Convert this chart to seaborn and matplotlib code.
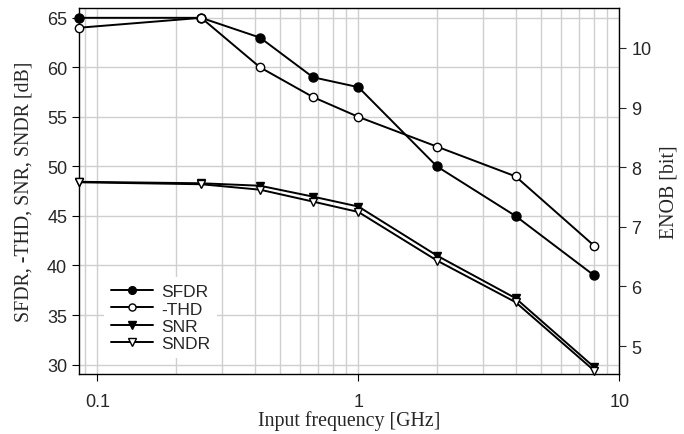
import numpy as np
import pandas as pd
import matplotlib
matplotlib.use("Agg")
import matplotlib.pyplot as plt
import matplotlib.ticker as mticker
import seaborn as sns

# data
freq_ghz = [0.085, 0.25, 0.42, 0.67, 1.0, 2.0, 4.0, 8.0]
sfdr = [65, 65, 63, 59, 58, 50, 45, 39]
thd = [64, 65, 60, 57, 55, 52, 49, 42]
snr = [48.45, 48.3, 48.05, 46.95, 45.95, 41.0, 36.7, 29.75]
sndr = [48.4, 48.2, 47.65, 46.45, 45.4, 40.5, 36.3, 29.4]

y_lim = (29.05, 66.0)
enob_ticks = [5, 6, 7, 8, 9, 10]

sns.set_style("ticks")
plt.rcParams["font.family"] = ["Liberation Sans", "DejaVu Sans"]

fig = plt.figure(figsize=(6.84, 4.35), dpi=100)
ax = fig.add_axes([0.1155, 0.138, 0.79, 0.8415])

series = [
    ("SFDR", sfdr, "o", "black", 6.5),
    ("-THD", thd, "o", "white", 6.0),
    ("SNR", snr, "v", "black", 6.0),
    ("SNDR", sndr, "v", "white", 6.0),
]
for name, vals, mk, fc, ms in series:
    sns.lineplot(x=freq_ghz, y=vals, ax=ax, label=name, color="black",
                 linewidth=1.4, marker=mk, markersize=ms,
                 markerfacecolor=fc, markeredgecolor="black",
                 markeredgewidth=1.0, clip_on=False, zorder=3)

ax.set_xscale("log")
ax.set_xlim(freq_ghz[0], 10)
ax.set_ylim(*y_lim)
ax.set_yticks([30, 35, 40, 45, 50, 55, 60, 65])
ax.xaxis.set_major_locator(mticker.LogLocator(base=10))
ax.xaxis.set_minor_locator(mticker.LogLocator(base=10, subs=np.arange(2, 10)))
ax.xaxis.set_major_formatter(mticker.FuncFormatter(lambda v, p: f"{v:g}"))
ax.xaxis.set_minor_formatter(mticker.NullFormatter())

ax.grid(True, which="major", color="#cfcfcf", linewidth=1.0)
ax.grid(True, which="minor", axis="x", color="#cfcfcf", linewidth=1.0)
ax.set_axisbelow(True)
ax.tick_params(axis="both", which="major", direction="out", length=5,
               labelsize=13, color="black")
ax.tick_params(axis="x", which="minor", length=0)
ax.tick_params(axis="x", pad=9)
for sp in ax.spines.values():
    sp.set_color("black")
    sp.set_linewidth(1.0)
    sp.set_visible(True)

ax.set_xlabel("Input frequency [GHz]", family="Liberation Serif", fontsize=14.3,
              labelpad=0)
ax.set_ylabel("SFDR, -THD, SNR, SNDR [dB]", family="Liberation Serif",
              fontsize=14.3, labelpad=10)

# ENOB axis: same scale as SNDR in dB
ax2 = ax.twinx()
ax2.set_ylim((y_lim[0] - 1.76) / 6.02, (y_lim[1] - 1.76) / 6.02)
ax2.set_yticks(enob_ticks)
ax2.tick_params(axis="y", direction="out", length=5, labelsize=13)
ax2.set_ylabel("ENOB [bit]", family="Liberation Serif", fontsize=14.3, labelpad=6)
ax2.grid(False)
for sp in ax2.spines.values():
    sp.set_visible(False)

leg = ax.legend(loc="lower left", bbox_to_anchor=(0.03, 0.02),
                frameon=True, fontsize=12.5, handlelength=2.4,
                labelspacing=0.12, borderpad=0.4, handletextpad=0.5,
                markerscale=0.85)
leg.get_frame().set_facecolor("white")
leg.get_frame().set_edgecolor("none")
leg.get_frame().set_alpha(1.0)
leg.set_zorder(5)

fig.savefig("out.png", dpi=100)
